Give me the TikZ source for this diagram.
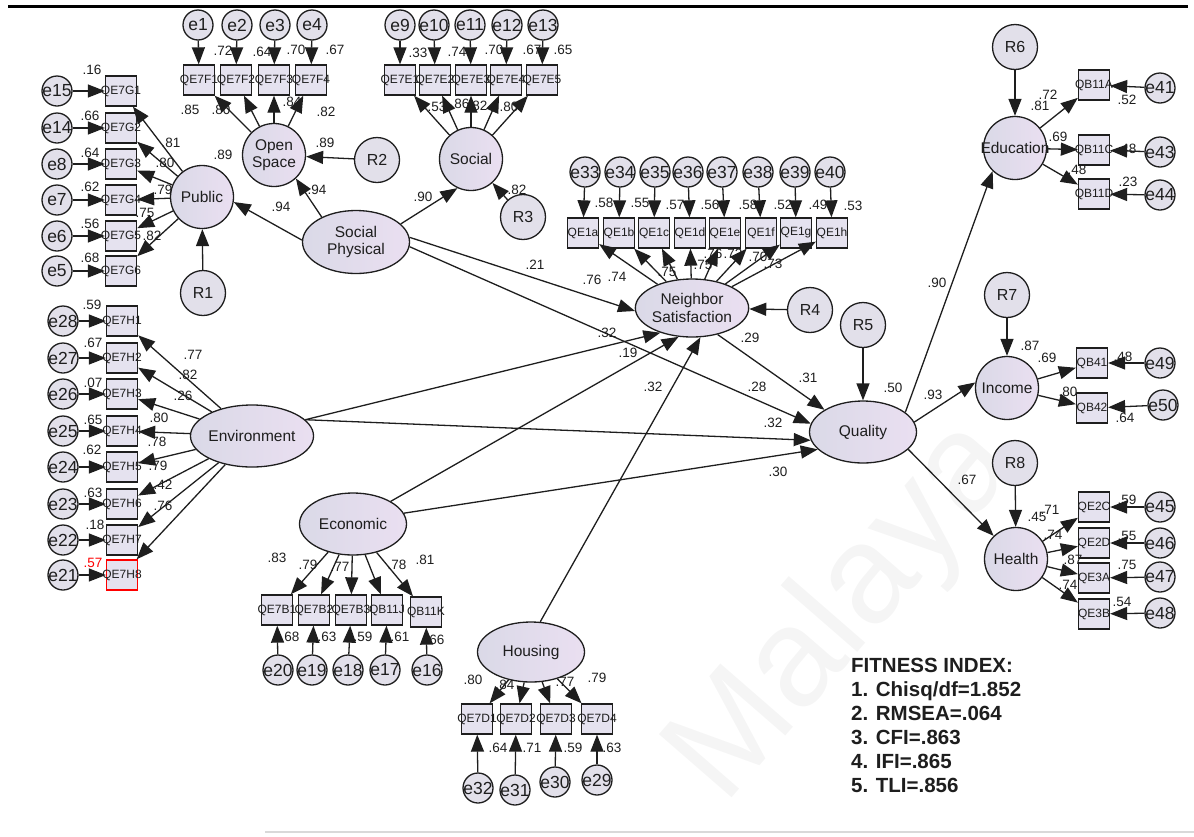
\documentclass[tikz,border=0pt]{standalone}
\usepackage{fontspec}
\setmainfont{Liberation Sans}
\usetikzlibrary{arrows.meta,shapes.geometric}
\definecolor{ink}{HTML}{1E1E1E}
\definecolor{latL}{HTML}{DAD9E7}
\definecolor{latR}{HTML}{EADFF1}
\definecolor{obsfill}{HTML}{E5E2EF}
\definecolor{errfill}{HTML}{E2E0EA}
\begin{document}
\begin{tikzpicture}[x=1pt,y=-1pt,
  every node/.style={text=ink},
  lat/.style={ellipse, draw=ink, line width=1.3pt, left color=latL, right color=latR,
    inner sep=0pt, minimum width=107pt, minimum height=62pt, align=center,
    font=\fontsize{15.5}{17.5}\selectfont},
  latc/.style={circle, draw=ink, line width=1.3pt, left color=latL, right color=latR,
    inner sep=0pt, minimum size=63pt, align=center, font=\fontsize{15.5}{17.5}\selectfont},
  obs/.style={rectangle, draw=ink, line width=1.3pt, fill=obsfill, inner sep=0pt,
    minimum width=31pt, minimum height=30pt, font=\fontsize{12}{13}\selectfont},
  err/.style={circle, draw=ink, line width=1.3pt, fill=errfill, inner sep=0pt,
    minimum size=30pt, font=\fontsize{17.5}{18}\selectfont},
  res/.style={circle, draw=ink, line width=1.3pt, fill=errfill, inner sep=0pt,
    minimum size=45pt, font=\fontsize{16}{18}\selectfont},
  arr/.style={draw=ink, line width=1.3pt, -{Triangle[length=17pt,width=13pt]}},
  est/.style={inner sep=0pt, font=\fontsize{13.5}{15}\selectfont},
  fitline/.style={anchor=base west, inner sep=0pt, font=\bfseries\fontsize{20.5}{22}\selectfont},
]
\useasboundingbox (0,0) rectangle (1194,836);

% faint watermark and page rules
\node[rotate=49, text=black!4, font=\fontsize{140}{140}\selectfont] (wm) at (845,612) {Malaya};
\draw[line width=3pt, black] (8,6.5) -- (1188,6.5);
\draw[line width=2pt, black!15] (265,832) -- (1194,832);

% latent variables
\node[latc] (pub) at (202,197) {Public};
\node[latc] (os) at (274,155) {Open\\Space};
\node[latc] (soc) at (471,159) {Social};
\node[lat, minimum height=63pt] (sp) at (356,242) {Social\\Physical};
\node[lat, minimum height=58pt] (ns) at (692,308) {Neighbor\\Satisfaction};
\node[lat] (qual) at (863,432) {Quality};
\node[lat] (env) at (252,436) {Environment};
\node[lat] (econ) at (353,524) {Economic};
\node[lat, minimum height=60pt] (hous) at (531,652) {Housing};
\node[latc] (edu) at (1015,148) {\makebox[0pt]{Education}};
\node[latc] (inc) at (1007,388) {Income};
\node[latc] (hea) at (1016,559) {Health};

% residuals of the latent variables
\foreach \nm/\px/\py/\tx in {r1/203/293/R1, r2/377/160/R2, r3/523/217/R3, r4/810/310/R4,
    r5/863/325/R5, r6/1015/47/R6, r7/1007/295/R7, r8/1015/463/R8}
  \node[res] (\nm) at (\px,\py) {\tx};

% observed indicators
\foreach \nm/\px/\py/\tx in {
    g1/121/91/QE7G1, g2/121/128/QE7G2, g3/121/164/QE7G3, g4/121/200/QE7G4, g5/121/236/QE7G5, g6/121/271/QE7G6,
    f1/199/80/QE7F1, f2/236/80/QE7F2, f3/274/80/QE7F3, f4/311/80/QE7F4,
    s1/400/80/QE7E1, s2/435/80/QE7E2, s3/471/80/QE7E3, s4/506/80/QE7E4, s5/542/80/QE7E5,
    n1/583/233/QE1a, n2/619/233/QE1b, n3/654/233/QE1c, n4/690/233/QE1d,
    n5/725/233/QE1e, n6/761/233/QE1f, n7/796/233/QE1g, n8/832/233/QE1h,
    h1/122/321/QE7H1, h2/122/358/QE7H2, h3/122/394/QE7H3, h4/122/431/QE7H4,
    h5/122/467/QE7H5, h6/122/504/QE7H6, h7/122/540/QE7H7,
    b1/277/610/QE7B1, b2/314/610/QE7B2, b3/351/610/QE7B3, b4/387/610/QB11J, b5/426/612/QB11K,
    d1/477/719/QE7D1, d2/516/719/QE7D2, d3/556/719/QE7D3, d4/597/719/QE7D4,
    u1/1094/85/QB11A, u2/1094/150/QB11C, u3/1094/194/QB11D,
    i1/1092/363/QB41, i2/1092/408/QB42,
    k1/1094/507/QE2C, k2/1094/543/QE2D, k3/1094/578/QE3A, k4/1094/614/QE3B}
  \node[obs] (\nm) at (\px,\py) {\makebox[0pt]{\tx}};
\node[obs, draw=red] (h8) at (122,575) {\makebox[0pt]{QE7H8}};

% measurement errors
\foreach \nm/\px/\py in {
    e15/57/91, e14/57/128, e8/57/164, e7/57/200, e6/57/236, e5/57/271,
    e1/198/25, e2/237/25, e3/275/25, e4/312/25,
    e9/400/25, e10/434/25, e11/470/25, e12/507/25, e13/543/25,
    e33/585/172, e34/620/172, e35/655/172, e36/688/172, e37/722/172, e38/758/172, e39/795/172, e40/830/172,
    e28/63/321, e27/63/358, e26/63/394, e25/63/431, e24/63/467, e23/63/504, e22/63/540, e21/63/575,
    e20/278/670, e19/312/670, e18/348/670, e17/385/670, e16/427/670,
    e32/478/788, e31/515/790, e30/555/782, e29/597/780,
    e41/1160/88, e43/1160/152, e44/1160/195,
    e49/1160/363, e50/1163/405,
    e45/1160/507, e46/1160/543, e47/1160/577, e48/1160/613}
  \node[err] (\nm) at (\px,\py) {\makebox[0pt]{\nm}};

% measurement paths
\foreach \a/\b in {
    pub/g1, pub/g2, pub/g3, pub/g4, pub/g5, pub/g6,
    e15/g1, e14/g2, e8/g3, e7/g4, e6/g5, e5/g6, r1/pub,
    os/f1, os/f2, os/f3, os/f4, e1/f1, e2/f2, e3/f3, e4/f4, r2/os,
    soc/s1, soc/s2, soc/s3, soc/s4, soc/s5, e9/s1, e10/s2, e11/s3, e12/s4, e13/s5, r3/soc,
    ns/n1, ns/n2, ns/n3, ns/n4, ns/n5, ns/n6, ns/n7, ns/n8,
    e33/n1, e34/n2, e35/n3, e36/n4, e37/n5, e38/n6, e39/n7, e40/n8, r4/ns,
    env/h1, env/h2, env/h3, env/h4, env/h5, env/h6, env/h7, env/h8,
    e28/h1, e27/h2, e26/h3, e25/h4, e24/h5, e23/h6, e22/h7, e21/h8,
    econ/b1, econ/b2, econ/b3, econ/b4, econ/b5, e20/b1, e19/b2, e18/b3, e17/b4, e16/b5,
    hous/d1, hous/d2, hous/d3, hous/d4, e32/d1, e31/d2, e30/d3, e29/d4,
    edu/u1, edu/u2, edu/u3, e41/u1, e43/u2, e44/u3, r6/edu,
    inc/i1, inc/i2, e49/i1, e50/i2, r7/inc,
    hea/k1, hea/k2, hea/k3, hea/k4, e45/k1, e46/k2, e47/k3, e48/k4, r8/hea,
    r5/qual}
  \draw[arr] (\a) -- (\b);

% structural paths
\draw[arr] (sp.178) -- (pub.-9);
\draw[arr] (sp.144) -- (os.-47);
\draw[arr] (sp.22) -- (soc.-115);
\draw[arr] (sp.5) -- (ns.183);
\draw[arr] (sp.-5) -- (qual.171);
\draw[arr] (env.17) -- (ns.218);
\draw[arr] (env.17) -- (qual.189);
\draw[arr] (econ.31) -- (ns.245);
\draw[arr] (econ.12) -- (qual.201);
\draw[arr] (hous.73) -- (ns.-74);
\draw[arr] (ns.-46) -- (qual.150);
\draw[arr] (qual.25) -- (edu.226);
\draw[arr] (qual.11) -- (inc.170);
\draw[arr] (qual.-21) -- (hea.134);

% standardised estimates
\foreach \val/\px/\py [count=\i] in {
    .16/92/70, .66/90/116, .64/90/153, .62/90/187, .56/90/224, .68/90/258,
    .81/171/143, .80/165/163, .79/163/190, .75/145/213, .82/152/236, .89/223/155,
    .72/223/51, .64/262/52, .70/296/50, .67/335/50, .85/190/110, .80/221/110,
    .84/292/102, .82/326/112, .89/325/143, .94/317/190, .94/281/207,
    .33/418/53, .74/457/52, .70/494/50, .67/532/50, .65/563/50,
    .53/437/107, .86/460/104, .82/478/106, .80/509/107, .90/423/197, .82/517/190,
    .58/604/203, .55/640/203, .57/675/205, .56/710/205, .58/748/205, .52/783/205, .49/818/205, .53/853/206,
    .76/592/280, .74/617/277, .75/667/272, .75/703/265, .76/713/254, .72/733/254, .70/758/257, .73/773/264,
    .21/535/265, .29/750/338, .32/607/333, .19/628/353, .32/653/387, .28/757/387,
    .31/808/378, .32/773/423, .30/778/472, .50/893/388,
    .90/937/283, .93/933/395, .67/967/480,
    .72/1048/95, .81/1040/106, .52/1127/100, .69/1058/137, .48/1127/149, .48/1077/170, .23/1128/182,
    .87/1030/346, .69/1047/358, .48/1123/357, .80/1068/392, .64/1125/418,
    .71/1050/510, .45/1037/517, .74/1053/535, .87/1073/560, .74/1068/585,
    .59/1127/500, .55/1127/536, .75/1127/565, .54/1122/602,
    .59/92/305, .67/93/343, .07/93/383, .65/93/420, .62/92/450, .63/93/493, .18/95/525,
    .77/193/355, .82/188/375, .26/183/396, .80/159/418, .78/157/442, .79/158/466, .42/163/485, .76/163/506,
    .83/277/558, .79/308/565, .77/340/567, .78/397/565, .81/425/560,
    .68/290/637, .63/327/637, .59/363/637, .61/400/637, .66/435/640,
    .80/473/680, .84/505/685, .77/565/682, .79/597/678,
    .64/498/748, .71/532/748, .59/573/748, .63/612/748}
  \node[est] (v\i) at (\px,\py) {\val};
\node[est, text=red] (vred) at (93,563) {.57};

% fit statistics
\node[fitline] (fit0) at (851,672) {FITNESS INDEX:};
\node[fitline] (fit1) at (851,696) {1. Chisq/df=1.852};
\node[fitline] (fit2) at (851,720) {2. RMSEA=.064};
\node[fitline] (fit3) at (851,744) {3. CFI=.863};
\node[fitline] (fit4) at (851,768) {4. IFI=.865};
\node[fitline] (fit5) at (851,792) {5. TLI=.856};
\end{tikzpicture}
\end{document}
